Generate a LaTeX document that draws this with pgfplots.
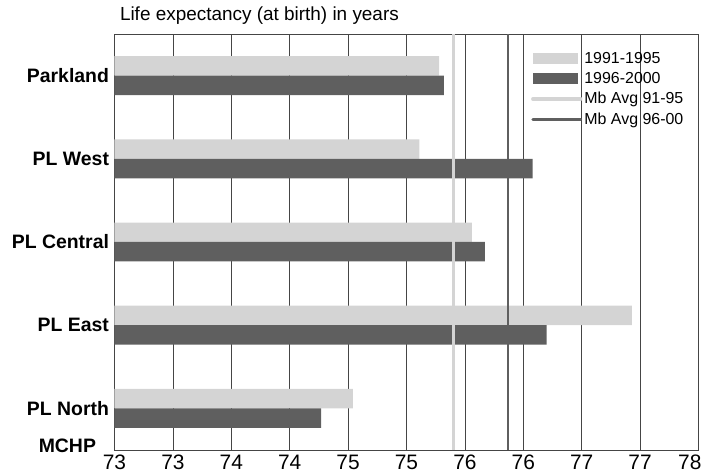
\documentclass[border=0pt]{standalone}
\usepackage{pgfplots}
\pgfplotsset{compat=1.18}
\usepackage{fontspec}
\setmainfont{Liberation Sans}
\definecolor{lightbar}{HTML}{D4D4D4}
\definecolor{darkbar}{HTML}{5F5F5F}
\definecolor{gridc}{HTML}{454545}
\begin{document}
\begin{tikzpicture}
\begin{axis}[
  scale only axis, width=584bp, height=416bp,
  xmin=73, xmax=78, ymin=0.5, ymax=5.5,
  xtick={73,73.5,74,74.5,75,75.5,76,76.5,77,77.5,78},
  xticklabels={73,73,74,74,75,75,76,76,77,77,\makebox[0pt][r]{78\hspace*{-3bp}}},
  ytick={0.55,1,2,3,4,5},
  yticklabels={MCHP\hspace*{13bp},PL North,PL East,PL Central,PL West,Parkland},
  yticklabel style={font=\fontsize{19.5}{22}\selectfont\bfseries, xshift=-2bp},
  xticklabel style={font=\fontsize{21}{24}\selectfont, yshift=-1.5bp},
  /pgf/number format/assume math mode=true,
  major tick length=0pt,
  xmajorgrids, grid style={gridc, line width=0.7bp},
  axis line style={gridc, line width=0.8bp},
  bar width=0.234,
  title={Life expectancy (at birth) in years},
  title style={at={(0,1)}, anchor=base west, yshift=8bp, xshift=2bp, font=\fontsize{19}{22}\selectfont},
  legend style={at={(0.713,0.9615)}, anchor=north west, draw=none, fill=none,
    font=\fontsize{16}{18}\selectfont, row sep=3.5bp, inner sep=0pt},
  legend cell align=left,
]
\addplot[xbar, bar shift=0.117, fill=lightbar, draw=none,
  legend image code/.code={\fill[lightbar] (0bp,-5.3bp) rectangle (45bp,5.3bp);}]
  coordinates {(75.78,5) (75.61,4) (76.06,3) (77.43,2) (75.04,1)};
\addlegendentry{1991-1995}
\addplot[xbar, bar shift=-0.117, fill=darkbar, draw=none,
  legend image code/.code={\fill[darkbar] (0bp,-5.3bp) rectangle (45bp,5.3bp);}]
  coordinates {(75.82,5) (76.58,4) (76.17,3) (76.70,2) (74.77,1)};
\addlegendentry{1996-2000}
\addplot[lightbar, line width=3.3bp, mark=none,
  legend image code/.code={\draw[lightbar, line width=3.3bp, line cap=round] (0bp,0bp) -- (48bp,0bp);}]
  coordinates {(75.90,0.5) (75.90,5.5)};
\addlegendentry{Mb Avg 91-95}
\addplot[darkbar, line width=2.5bp, mark=none,
  legend image code/.code={\draw[darkbar, line width=2.8bp, line cap=round] (0bp,0bp) -- (48bp,0bp);}]
  coordinates {(76.37,0.5) (76.37,5.5)};
\addlegendentry{Mb Avg 96-00}
\end{axis}
\pgfresetboundingbox
\path[use as bounding box] ([xshift=-114.5bp,yshift=-26bp]current axis.south west) rectangle ([xshift=3.5bp,yshift=34bp]current axis.north east);
\end{tikzpicture}
\end{document}
